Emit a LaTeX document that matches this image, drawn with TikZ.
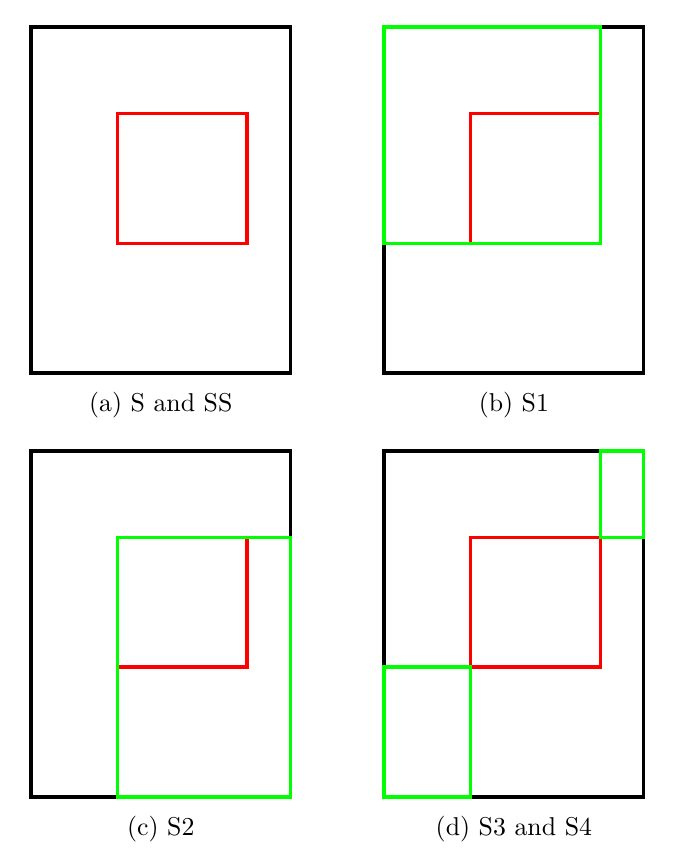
\documentclass[tikz,border=0pt]{standalone}
\usepackage{tikz}
\usetikzlibrary{positioning}
\usepackage{xcolor}
\definecolor{pureRed}{RGB}{255,0,0}
\definecolor{pureGreen}{RGB}{0,255,0}

\begin{document}
\begin{tikzpicture}[
    x=16.75pt,y=16.75pt,
    region/.style={draw=black,line width=1.4pt},
    inner/.style={draw=pureRed,line width=1.4pt},
    part/.style={draw=pureGreen,line width=1.4pt},
    caption/.style={font=\normalsize,inner sep=0pt}
]
\useasboundingbox (-0.72,-11.13) rectangle (15.02,8.63);

% (a)
\begin{scope}
\draw[region] (0,0) rectangle (6,8);
\draw[inner] (2,3) rectangle (5,6);
\node[caption] (capA) at (3,-0.74) {(a) S and SS};
\end{scope}

% (b)
\begin{scope}[xshift=8.17*16.75pt]
\draw[region] (0,0) rectangle (6,8);
\draw[inner] (2,3) rectangle (5,6);
\draw[part] (0,3) rectangle (5,8);
\node[caption] (capB) at (3,-0.74) {(b) S1};
\end{scope}

% (c)
\begin{scope}[yshift=-9.81*16.75pt]
\draw[region] (0,0) rectangle (6,8);
\draw[inner] (2,3) rectangle (5,6);
\draw[part] (2,0) rectangle (6,6);
\node[caption] (capC) at (3,-0.74) {(c) S2};
\end{scope}

% (d)
\begin{scope}[xshift=8.17*16.75pt,yshift=-9.81*16.75pt]
\draw[region] (0,0) rectangle (6,8);
\draw[inner] (2,3) rectangle (5,6);
\draw[part] (5,6) rectangle (6,8);
\draw[part] (0,0) rectangle (2,3);
\node[caption] (capD) at (3,-0.74) {(d) S3 and S4};
\end{scope}
\end{tikzpicture}
\end{document}
